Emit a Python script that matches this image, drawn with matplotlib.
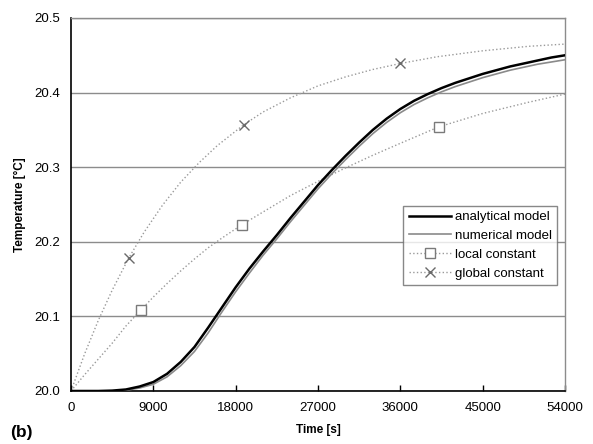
import matplotlib
matplotlib.use("Agg")
import matplotlib.pyplot as plt

plt.rcParams['font.family'] = ['Liberation Sans', 'DejaVu Sans']

# time axis values [s]
t_model = [0, 3000, 4500, 6000, 7500, 9000, 10500, 12000, 13500, 15000, 16500,
           18000, 19500, 21000, 22500, 24000, 25500, 27000, 28500, 30000, 31500,
           33000, 34500, 36000, 37500, 39000, 40500, 42000, 43500, 45000, 46500,
           48000, 49500, 51000, 52500, 54000]
analytical = [20.000, 20.000, 20.0005, 20.002, 20.006, 20.012, 20.023, 20.039,
              20.059, 20.085, 20.112, 20.139, 20.164, 20.187, 20.209, 20.232,
              20.254, 20.276, 20.296, 20.315, 20.333, 20.350, 20.365, 20.378,
              20.389, 20.398, 20.406, 20.413, 20.419, 20.425, 20.430, 20.435,
              20.439, 20.443, 20.447, 20.450]
numerical = [20.000, 20.000, 20.000, 20.001, 20.004, 20.009, 20.019, 20.034,
             20.053, 20.078, 20.106, 20.133, 20.158, 20.182, 20.204, 20.227,
             20.249, 20.271, 20.291, 20.310, 20.328, 20.345, 20.360, 20.373,
             20.384, 20.393, 20.401, 20.408, 20.414, 20.420, 20.425, 20.430,
             20.434, 20.438, 20.441, 20.444]

t_local = [0, 1500, 3000, 4500, 6000, 7600, 9000, 10500, 12000, 13500, 15000,
           16500, 18700, 21000, 24000, 27000, 30000, 33000, 36000, 40200, 45000,
           50000, 54000]
local_const = [20.000, 20.022, 20.043, 20.064, 20.087, 20.108, 20.126, 20.144,
               20.161, 20.177, 20.192, 20.205, 20.223, 20.240, 20.262, 20.281,
               20.299, 20.316, 20.332, 20.354, 20.372, 20.387, 20.398]
local_marks = [5, 12, 19]

t_global = [0, 1500, 3000, 4500, 6300, 8000, 10000, 12000, 14000, 16000, 18900,
            21000, 24000, 27000, 30000, 33000, 36000, 40000, 45000, 50000, 54000]
global_const = [20.000, 20.050, 20.095, 20.135, 20.178, 20.213, 20.249, 20.280,
                20.306, 20.329, 20.357, 20.374, 20.393, 20.409, 20.421, 20.431,
                20.439, 20.448, 20.456, 20.462, 20.465]
global_marks = [4, 10, 16]

x_ticks = [0, 9000, 18000, 27000, 36000, 45000, 54000]
y_ticks = [20.0, 20.1, 20.2, 20.3, 20.4, 20.5]

fig = plt.figure(figsize=(5.93, 4.44), dpi=100)
ax = fig.add_axes([0.1197, 0.1194, 0.8331, 0.8401])

ax.plot(t_model, analytical, color='black', lw=1.8, label='analytical model', zorder=4)
ax.plot(t_model, numerical, color='#8a8a8a', lw=1.2, label='numerical model', zorder=3)
ax.plot(t_local, local_const, color='#9a9a9a', lw=1.0, ls=':', marker='s',
        markevery=local_marks, ms=7, mfc='white', mec='#7a7a7a', mew=1.0,
        label='local constant', zorder=2)
ax.plot(t_global, global_const, color='#9a9a9a', lw=1.0, ls=':', marker='x',
        markevery=global_marks, ms=7, mec='#6a6a6a', mew=1.0,
        label='global constant', zorder=2)

ax.set_xlim(0, 54000)
ax.set_ylim(20.0, 20.5)
ax.set_xticks(x_ticks)
ax.set_yticks(y_ticks)
ax.set_yticklabels([f"{v:.1f}" for v in y_ticks])
ax.tick_params(axis='x', direction='in', length=4, width=1, labelsize=9.5, pad=8)
ax.tick_params(axis='y', length=0, labelsize=9.5, pad=8)
ax.yaxis.grid(True, color='#8c8c8c', lw=1.0)
ax.set_axisbelow(True)

for side in ['left', 'bottom']:
    ax.spines[side].set_color('black')
    ax.spines[side].set_linewidth(1.2)
for side in ['top', 'right']:
    ax.spines[side].set_color('#8c8c8c')
    ax.spines[side].set_linewidth(1.0)

ax.set_xlabel('Time [s]', fontsize=8.5, fontweight='bold', labelpad=7)
ax.set_ylabel('Temperature [°C]', fontsize=8.5, fontweight='bold', labelpad=6)

leg = ax.legend(loc='lower right', bbox_to_anchor=(0.984, 0.284), borderaxespad=0,
                fontsize=9.5, handlelength=3.2, handletextpad=0.3,
                labelspacing=0.5, frameon=True, fancybox=False, borderpad=0.4)
leg.get_frame().set_edgecolor('#6a6a6a')
leg.get_frame().set_linewidth(1.0)

fig.text(0.017, 0.015, '(b)', fontsize=12.5, fontweight='bold')

fig.savefig('out.png', dpi=100)
